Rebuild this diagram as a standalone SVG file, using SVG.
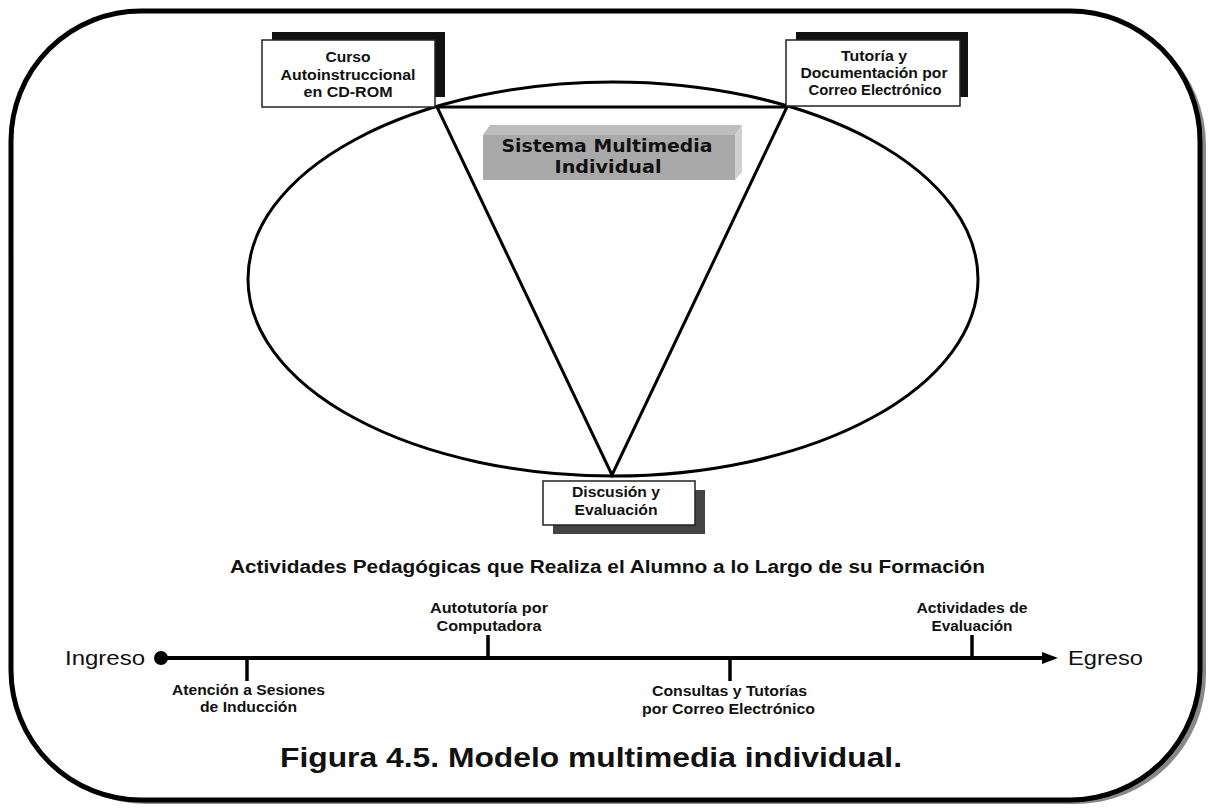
<svg xmlns="http://www.w3.org/2000/svg" width="1212" height="808" viewBox="0 0 1212 808">
<defs>
<style>
.t{font-family:"Liberation Sans",Arial,sans-serif;font-weight:bold;fill:#111;text-anchor:middle}
.n{font-size:14px}
.v{font-family:"DejaVu Sans",Verdana,sans-serif;font-size:18.5px}
.ln{stroke:#000;stroke-width:3;fill:none}
.tk{stroke:#000;stroke-width:3.5}
</style>
</defs>
<rect x="0" y="0" width="1212" height="808" fill="#fff"/>
<g id="frame">
<rect x="16" y="15" width="1190" height="789" rx="130" ry="130" fill="#888"/>
<rect x="11" y="11" width="1189" height="789" rx="130" ry="130" fill="#fff" stroke="#000" stroke-width="5"/>
</g>
<g id="connectors">
<ellipse cx="613" cy="279" rx="365" ry="197" class="ln"/>
<polygon points="437,107 787,107 612,475" class="ln"/>
<line x1="161" y1="658" x2="1046" y2="658" stroke="#000" stroke-width="4"/>
<polygon points="1042,652 1058,658 1042,664" fill="#000"/>
<circle cx="161" cy="658" r="7" fill="#000"/>
<line x1="247" y1="658" x2="247" y2="681" class="tk"/>
<line x1="488" y1="658" x2="488" y2="635" class="tk"/>
<line x1="730" y1="658" x2="730" y2="681" class="tk"/>
<line x1="972" y1="658" x2="972" y2="635" class="tk"/>
</g>
<g id="curso">
<rect x="272" y="32" width="173" height="65" fill="#111"/>
<rect x="262" y="40" width="173" height="67" fill="#fff" stroke="#222" stroke-width="1.5"/>
<text class="t n" x="348" y="62" textLength="45" lengthAdjust="spacingAndGlyphs">Curso</text>
<text class="t n" x="348" y="79.5" textLength="135" lengthAdjust="spacingAndGlyphs">Autoinstruccional</text>
<text class="t n" x="348" y="97" textLength="89" lengthAdjust="spacingAndGlyphs">en CD-ROM</text>
</g>
<g id="tutoria">
<rect x="796" y="32" width="172" height="65" fill="#111"/>
<rect x="786" y="40" width="174" height="66" fill="#fff" stroke="#222" stroke-width="1.5"/>
<text class="t n" x="874" y="61" textLength="66" lengthAdjust="spacingAndGlyphs">Tutoría y</text>
<text class="t n" x="874" y="78" textLength="147" lengthAdjust="spacingAndGlyphs">Documentación por</text>
<text class="t n" x="875" y="95" textLength="133" lengthAdjust="spacingAndGlyphs">Correo Electrónico</text>
</g>
<g id="sistema">
<polygon points="483,135 490,125 742,125 735,135" fill="#bdbdbd"/>
<polygon points="735,135 742,125 742,172 735,180" fill="#d0d0d0"/>
<rect x="483" y="135" width="252" height="45" fill="#a9a9a9"/>
<text class="t v" x="607" y="152" textLength="211" lengthAdjust="spacingAndGlyphs">Sistema Multimedia</text>
<text class="t v" x="608" y="173" textLength="107" lengthAdjust="spacingAndGlyphs">Individual</text>
</g>
<g id="discusion">
<rect x="553" y="490" width="152" height="44" fill="#444"/>
<rect x="543" y="481" width="152" height="44" fill="#fff" stroke="#222" stroke-width="1.5"/>
<text class="t n" x="616" y="497" textLength="88" lengthAdjust="spacingAndGlyphs">Discusión y</text>
<text class="t n" x="616" y="515" textLength="83" lengthAdjust="spacingAndGlyphs">Evaluación</text>
</g>
<g id="titulo">
<text class="t" x="607.5" y="573" style="font-size:18px" textLength="755" lengthAdjust="spacingAndGlyphs">Actividades Pedagógicas que Realiza el Alumno a lo Largo de su Formación</text>
</g>
<g id="ingreso"><text class="t" x="105" y="665" style="font-size:21px;font-weight:normal" textLength="80" lengthAdjust="spacingAndGlyphs">Ingreso</text></g>
<g id="egreso"><text class="t" x="1105.5" y="665" style="font-size:21px;font-weight:normal" textLength="75" lengthAdjust="spacingAndGlyphs">Egreso</text></g>
<g id="atencion">
<text class="t n" x="248.5" y="695" textLength="153" lengthAdjust="spacingAndGlyphs">Atención a Sesiones</text>
<text class="t n" x="248.5" y="712" textLength="97" lengthAdjust="spacingAndGlyphs">de Inducción</text>
</g>
<g id="autotutoria">
<text class="t n" x="489" y="613" textLength="118" lengthAdjust="spacingAndGlyphs">Autotutoría por</text>
<text class="t n" x="489" y="631" textLength="105" lengthAdjust="spacingAndGlyphs">Computadora</text>
</g>
<g id="consultas">
<text class="t n" x="729.5" y="696" textLength="155" lengthAdjust="spacingAndGlyphs">Consultas y Tutorías</text>
<text class="t n" x="728.5" y="714" textLength="173" lengthAdjust="spacingAndGlyphs">por Correo Electrónico</text>
</g>
<g id="actividades">
<text class="t n" x="972" y="613" textLength="111" lengthAdjust="spacingAndGlyphs">Actividades de</text>
<text class="t n" x="972" y="631" textLength="81" lengthAdjust="spacingAndGlyphs">Evaluación</text>
</g>
<g id="caption">
<text class="t" x="591" y="767" style="font-size:28px" textLength="622" lengthAdjust="spacingAndGlyphs">Figura 4.5. Modelo multimedia individual.</text>
</g>
</svg>
